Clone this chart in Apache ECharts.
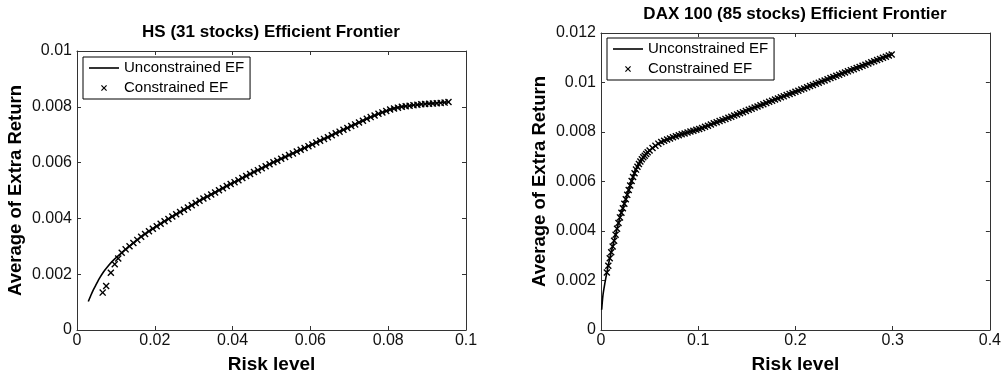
<!DOCTYPE html>
<html>
<head>
<meta charset="utf-8">
<title>Efficient Frontier</title>
<script src="https://cdn.jsdelivr.net/npm/echarts/dist/echarts.min.js"></script>
<style>
	html, body { margin: 0; padding: 0; background: #fff; }
	#chart { width: 1004px; height: 379px; }
</style>
</head>
<body>
<div id="chart"></div>
<script>
// HS (31 stocks) - unconstrained frontier
let hsLineX = [0.0029, 0.0035, 0.0042, 0.005, 0.0058, 0.0068, 0.0078, 0.009, 0.0102, 0.012, 0.0145, 0.017, 0.02, 0.025, 0.03, 0.035, 0.04, 0.045, 0.05, 0.055, 0.06, 0.065, 0.07, 0.075, 0.08, 0.0825, 0.085, 0.088, 0.091, 0.0935, 0.0958];
let hsLineY = [0.00102, 0.00122, 0.00144, 0.00165, 0.00186, 0.00208, 0.00226, 0.00245, 0.00261, 0.00283, 0.00312, 0.0034, 0.00368, 0.00411, 0.00451, 0.0049, 0.00527, 0.00563, 0.00598, 0.0063, 0.00662, 0.00695, 0.00728, 0.0076, 0.00788, 0.00798, 0.00803, 0.00808, 0.00812, 0.00815, 0.00818];
// HS - constrained frontier markers
let hsDotX = [0.0066, 0.0075, 0.0087, 0.0097, 0.0106, 0.0115, 0.0125, 0.0135, 0.0145, 0.0155, 0.0165, 0.0175, 0.0185, 0.0195, 0.0205, 0.0215, 0.0225, 0.0235, 0.0245, 0.0255, 0.0265, 0.0275, 0.0285, 0.0295, 0.0305, 0.0315, 0.0325, 0.0335, 0.0345, 0.0355, 0.0365, 0.0375, 0.0385, 0.0395, 0.0405, 0.0415, 0.0425, 0.0435, 0.0445, 0.0455, 0.0465, 0.0475, 0.0485, 0.0495, 0.0505, 0.0515, 0.0525, 0.0535, 0.0545, 0.0555, 0.0565, 0.0575, 0.0585, 0.0595, 0.0605, 0.0615, 0.0625, 0.0635, 0.0645, 0.0655, 0.0665, 0.0675, 0.0685, 0.0695, 0.0705, 0.0715, 0.0725, 0.0735, 0.0745, 0.0755, 0.0765, 0.0775, 0.0785, 0.0795, 0.0805, 0.0815, 0.0825, 0.0835, 0.0845, 0.0855, 0.0865, 0.0875, 0.0885, 0.0895, 0.0905, 0.0915, 0.0925, 0.0935, 0.0945, 0.0955];
let hsDotY = [0.00134, 0.00158, 0.00205, 0.00236, 0.00256, 0.00277, 0.00289, 0.003, 0.00312, 0.00323, 0.00334, 0.00344, 0.00354, 0.00363, 0.00372, 0.00381, 0.0039, 0.00398, 0.00407, 0.00415, 0.00423, 0.00431, 0.00439, 0.00447, 0.00455, 0.00463, 0.00471, 0.00478, 0.00486, 0.00493, 0.00501, 0.00508, 0.00516, 0.00523, 0.0053, 0.00537, 0.00545, 0.00552, 0.00559, 0.00566, 0.00573, 0.0058, 0.00587, 0.00594, 0.00601, 0.00607, 0.00614, 0.0062, 0.00627, 0.00633, 0.0064, 0.00646, 0.00652, 0.00659, 0.00665, 0.00672, 0.00678, 0.00685, 0.00691, 0.00698, 0.00705, 0.00711, 0.00718, 0.00724, 0.00731, 0.00737, 0.00744, 0.0075, 0.00757, 0.00763, 0.00769, 0.00775, 0.0078, 0.00785, 0.0079, 0.00794, 0.00797, 0.008, 0.00802, 0.00804, 0.00806, 0.00807, 0.00809, 0.0081, 0.00811, 0.00812, 0.00813, 0.00814, 0.00815, 0.00817];

// DAX 100 (85 stocks) - unconstrained frontier
let daxLineX = [0.0007, 0.002, 0.004, 0.0065, 0.009, 0.011, 0.0144, 0.0195, 0.024, 0.0281, 0.032, 0.0367, 0.042, 0.047, 0.053, 0.0607, 0.07, 0.0778, 0.09, 0.1018, 0.12, 0.136, 0.16, 0.18, 0.2014, 0.225, 0.2527, 0.275, 0.299];
let daxLineY = [0.00082, 0.0014, 0.00189, 0.00242, 0.0029, 0.00322, 0.00375, 0.00455, 0.0051, 0.00561, 0.00608, 0.00654, 0.0069, 0.00714, 0.00735, 0.00758, 0.00773, 0.00784, 0.00799, 0.00813, 0.0084, 0.00866, 0.00903, 0.00934, 0.00966, 0.01003, 0.01046, 0.0108, 0.01113];
// DAX 100 - constrained frontier markers
let daxDotX = [0.006, 0.0075, 0.009, 0.0105, 0.012, 0.0135, 0.015, 0.0165, 0.018, 0.0195, 0.021, 0.0225, 0.024, 0.0255, 0.027, 0.0285, 0.03, 0.0315, 0.033, 0.0345, 0.036, 0.0375, 0.039, 0.0405, 0.042, 0.0435, 0.045, 0.0465, 0.048, 0.05, 0.053, 0.056, 0.059, 0.062, 0.065, 0.068, 0.071, 0.074, 0.077, 0.08, 0.083, 0.086, 0.089, 0.092, 0.095, 0.098, 0.101, 0.104, 0.107, 0.11, 0.113, 0.116, 0.119, 0.122, 0.125, 0.128, 0.131, 0.134, 0.137, 0.14, 0.143, 0.146, 0.149, 0.152, 0.155, 0.158, 0.161, 0.164, 0.167, 0.17, 0.173, 0.176, 0.179, 0.182, 0.185, 0.188, 0.191, 0.194, 0.197, 0.2, 0.203, 0.206, 0.209, 0.212, 0.215, 0.218, 0.221, 0.224, 0.227, 0.23, 0.233, 0.236, 0.239, 0.242, 0.245, 0.248, 0.251, 0.254, 0.257, 0.26, 0.263, 0.266, 0.269, 0.272, 0.275, 0.278, 0.281, 0.284, 0.287, 0.29, 0.293, 0.296, 0.299];
let daxDotY = [0.00232, 0.0026, 0.0029, 0.00314, 0.00337, 0.00361, 0.00385, 0.00409, 0.00432, 0.00455, 0.00474, 0.00492, 0.0051, 0.00528, 0.00546, 0.00566, 0.00584, 0.00602, 0.00618, 0.00633, 0.00648, 0.0066, 0.00671, 0.00681, 0.0069, 0.00698, 0.00704, 0.00711, 0.00718, 0.00725, 0.00735, 0.00744, 0.00753, 0.0076, 0.00765, 0.0077, 0.00774, 0.00779, 0.00783, 0.00787, 0.00791, 0.00794, 0.00798, 0.00802, 0.00805, 0.00809, 0.00812, 0.00816, 0.00821, 0.00825, 0.0083, 0.00835, 0.00839, 0.00844, 0.00848, 0.00853, 0.00858, 0.00862, 0.00867, 0.00871, 0.00876, 0.0088, 0.00885, 0.0089, 0.00894, 0.00899, 0.00903, 0.00908, 0.00912, 0.00917, 0.00922, 0.00926, 0.00931, 0.00935, 0.0094, 0.00944, 0.00949, 0.00954, 0.00958, 0.00963, 0.00967, 0.00972, 0.00976, 0.00981, 0.00986, 0.0099, 0.00995, 0.00999, 0.01004, 0.01008, 0.01013, 0.01018, 0.01022, 0.01027, 0.01031, 0.01036, 0.0104, 0.01045, 0.0105, 0.01054, 0.01059, 0.01063, 0.01068, 0.01072, 0.01077, 0.01082, 0.01086, 0.01091, 0.01095, 0.011, 0.01104, 0.01109, 0.01113];

let titleList = ['HS (31 stocks) Efficient Frontier', 'DAX 100 (85 stocks) Efficient Frontier'];
let seriesNames = ['Unconstrained EF', 'Constrained EF'];

let font = "'Liberation Sans', Arial, sans-serif";
// filled x shaped marker
let crossPath = 'path://M0,1.4L1.4,0L5,3.6L8.6,0L10,1.4L6.4,5L10,8.6L8.6,10L5,6.4L1.4,10L0,8.6L3.6,5Z';
// thin bar used as the legend icon of the solid line
let barPath = 'path://M0,0L30,0L30,1.6L0,1.6Z';

function pairs(xs, ys){
	let out = [];
	for(let i = 0; i < xs.length; i++){
		out.push([xs[i], ys[i]]);
	}
	return out;
}

// bottom / left axis with labels, top / right axis only for the box ticks
function xAxes(grid, max, step){
	let base = {
		gridIndex: grid, type: 'value', min: 0, max: max, interval: step,
		axisLine: { show: true, onZero: false, lineStyle: { color: '#333', width: 1 } },
		axisTick: { show: true, inside: true, length: 4, lineStyle: { color: '#333' } },
		splitLine: { show: false }
	};
	let bottom = Object.assign({}, base, {
		position: 'bottom',
		name: 'Risk level', nameLocation: 'middle', nameGap: 25,
		nameTextStyle: { fontFamily: font, fontSize: 19, fontWeight: 'bold', color: '#000' },
		axisLabel: { fontFamily: font, fontSize: 16, color: '#111', margin: 3 }
	});
	let top = Object.assign({}, base, { position: 'top', axisLabel: { show: false } });
	return [bottom, top];
}

function yAxes(grid, max){
	let base = {
		gridIndex: grid, type: 'value', min: 0, max: max, interval: 0.002,
		axisLine: { show: true, onZero: false, lineStyle: { color: '#333', width: 1 } },
		axisTick: { show: true, inside: true, length: 4, lineStyle: { color: '#333' } },
		splitLine: { show: false }
	};
	let left = Object.assign({}, base, {
		position: 'left',
		name: 'Average of Extra Return', nameLocation: 'middle', nameGap: 52,
		nameTextStyle: { fontFamily: font, fontSize: 18.5, fontWeight: 'bold', color: '#000' },
		axisLabel: { fontFamily: font, fontSize: 16, color: '#111', margin: 5 }
	});
	let right = Object.assign({}, base, { position: 'right', axisLabel: { show: false } });
	return [left, right];
}

function legendBox(x, y){
	return {
		left: x, top: y, orient: 'vertical',
		itemWidth: 30, itemHeight: 6, itemGap: 2,
		padding: [2, 6, 2, 6],
		borderColor: '#000', borderWidth: 1, backgroundColor: '#fff',
		textStyle: { fontFamily: font, fontSize: 15, color: '#000', lineHeight: 18 },
		data: [
			{ name: seriesNames[0], icon: barPath },
			{ name: seriesNames[1] }
		]
	};
}

let xa = xAxes(0, 0.1, 0.02).concat(xAxes(1, 0.4, 0.1));
let ya = yAxes(0, 0.01).concat(yAxes(1, 0.012));

var myChart = echarts.init(document.getElementById('chart'));
var option = {
	animation: false,
	backgroundColor: '#fff',
	title: [
		{ text: titleList[0], left: 271, top: 24, textAlign: 'center', padding: 0,
			textStyle: { fontFamily: font, fontSize: 17, fontWeight: 'bold', color: '#000' } },
		{ text: titleList[1], left: 795, top: 6, textAlign: 'center', padding: 0,
			textStyle: { fontFamily: font, fontSize: 17, fontWeight: 'bold', color: '#000' } }
	],
	legend: [legendBox(83, 57), legendBox(607, 38)],
	grid: [
		{ left: 77, top: 51, width: 389, height: 283 },
		{ left: 601, top: 33, width: 389, height: 301 }
	],
	xAxis: xa,
	yAxis: ya,
	series: [
		{
			name: seriesNames[0], type: 'line', xAxisIndex: 0, yAxisIndex: 0,
			data: pairs(hsLineX, hsLineY), symbol: 'none', smooth: 0.3,
			lineStyle: { color: '#000', width: 1.6 }, itemStyle: { color: '#000' }
		},
		{
			name: seriesNames[1], type: 'scatter', xAxisIndex: 0, yAxisIndex: 0,
			data: pairs(hsDotX, hsDotY), symbol: crossPath, symbolSize: 7, symbolKeepAspect: true,
			itemStyle: { color: '#000', opacity: 1 }
		},
		{
			name: seriesNames[0], type: 'line', xAxisIndex: 2, yAxisIndex: 2,
			data: pairs(daxLineX, daxLineY), symbol: 'none', smooth: 0.3,
			lineStyle: { color: '#000', width: 1.6 }, itemStyle: { color: '#000' }
		},
		{
			name: seriesNames[1], type: 'scatter', xAxisIndex: 2, yAxisIndex: 2,
			data: pairs(daxDotX, daxDotY), symbol: crossPath, symbolSize: 7, symbolKeepAspect: true,
			itemStyle: { color: '#000', opacity: 1 }
		}
	]
};
myChart.setOption(option);
</script>
</body>
</html>
